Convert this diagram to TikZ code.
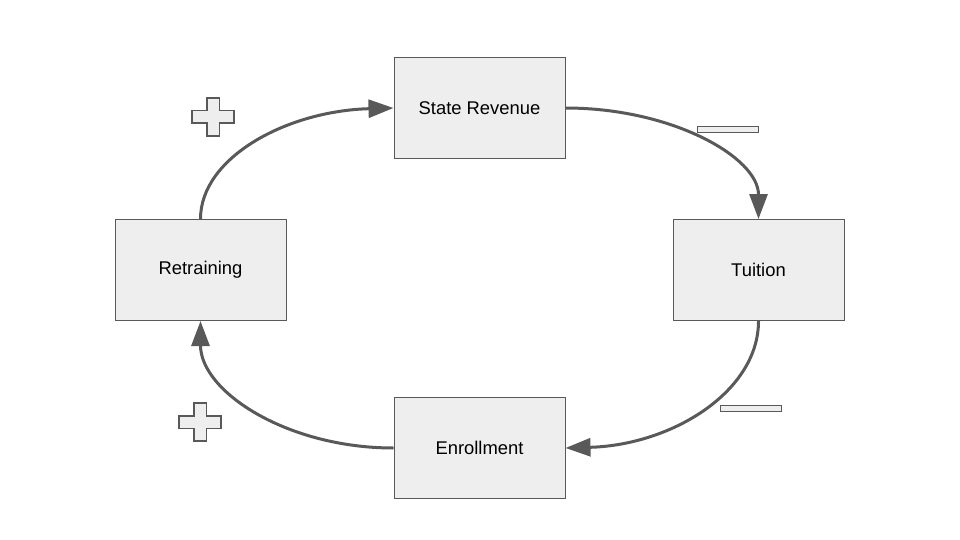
\documentclass[tikz,border=0pt]{standalone}
\usepackage{fontspec}
\setmainfont{Liberation Sans}
\usetikzlibrary{arrows.meta}

\begin{document}
\begin{tikzpicture}
        [x=1pt, y=-1pt,
        box/.style={rectangle, draw=boxline, fill=boxfill, line width=1pt,
          minimum width=171pt, minimum height=101pt,
          font=\fontsize{18.4}{22}\selectfont},
        arr/.style={-{Triangle[length=25pt,width=18pt]}, line width=3pt, draw=arrline},
        sign/.style={draw=boxline, fill=boxfill, line width=1.5pt}]
        \definecolor{boxfill}{HTML}{EEEEEE}
        \definecolor{boxline}{HTML}{595959}
        \definecolor{arrline}{HTML}{595959}
        \useasboundingbox (0,0) rectangle (960,540);
        % the four boxes
        \node (rev) at (479.5,108) [box] {State Revenue};
        \node (tui) at (758.5,270) [box] {Tuition};
        \node (enr) at (479.5,448) [box] {Enrollment};
        \node (ret) at (200.5,270) [box] {Retraining};
        % the loop, quarter ellipses
        \draw[arr] (ret.north) .. controls +(0,-61.5) and +(-106.8,3) .. (rev.west);
        \draw[arr] (rev.east) .. controls +(106.8,0) and +(0,-61.5) .. (tui.north);
        \draw[arr] (tui.south) .. controls +(0,70.4) and +(106.8,-3) .. (enr.east);
        \draw[arr] (enr.west) .. controls +(-106.8,0) and +(0,70.4) .. (ret.south);
        % plus signs
        \foreach \px/\py in {213/117, 200/422}
          \draw[sign, shift={(\px,\py)}]
            (-6.25,-19) -- (6.25,-19) -- (6.25,-6.25) -- (21,-6.25) -- (21,6.25)
            -- (6.25,6.25) -- (6.25,19) -- (-6.25,19) -- (-6.25,6.25) -- (-21,6.25)
            -- (-21,-6.25) -- (-6.25,-6.25) -- cycle;
        % minus signs
        \foreach \mx/\my in {727.5/130, 750.5/408}
          \draw[sign, line width=1pt, shift={(\mx,\my)}] (-30.5,-3) rectangle (30.5,3);
     \end{tikzpicture}
\end{document}
